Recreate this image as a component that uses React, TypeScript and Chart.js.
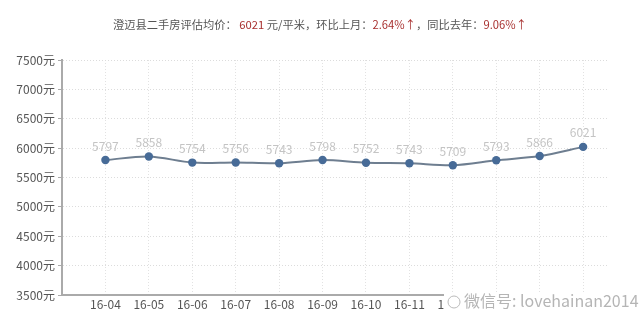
import React, { useEffect, useRef } from "react";
import { Chart, registerables } from "chart.js";

Chart.register(...registerables);

const months = ["16-04", "16-05", "16-06", "16-07", "16-08", "16-09", "16-10", "16-11", "16-12", "17-01", "17-02", "17-03"];
const prices = [5797, 5858, 5754, 5756, 5743, 5798, 5752, 5743, 5709, 5793, 5866, 6021];
const yTicks = [3500, 4000, 4500, 5000, 5500, 6000, 6500, 7000, 7500];

const titleParts: [string, boolean][] = [
  ["澄迈县二手房评估均价： ", false],
  ["6021", true],
  [" 元/平米，环比上月：", false],
  ["2.64%↑", true],
  ["，同比去年：", false],
  ["9.06%↑", true],
];
const watermarkText = "微信号: lovehainan2014";

const FONT = '"Noto Sans CJK SC", "Noto Sans", sans-serif';

const titlePlugin = {
  id: "customTitle",
  afterDraw(chart: any) {
    const ctx = chart.ctx;
    ctx.save();
    ctx.font = `13px ${FONT}`;
    const total13 = titleParts.reduce((s, p) => s + ctx.measureText(p[0]).width, 0);
    const size = (13 * 414) / total13;
    ctx.font = `${size}px ${FONT}`;
    ctx.textBaseline = "middle";
    const total = titleParts.reduce((s, p) => s + ctx.measureText(p[0]).width, 0);
    let x = 320 - total / 2;
    for (const [t, red] of titleParts) {
      ctx.fillStyle = red ? "#a8302f" : "#555";
      ctx.fillText(t, x, 25);
      x += ctx.measureText(t).width;
    }
    ctx.restore();
  },
};

const labelPlugin = {
  id: "pointLabels",
  afterDatasetsDraw(chart: any) {
    const ctx = chart.ctx;
    const meta = chart.getDatasetMeta(0);
    ctx.save();
    ctx.font = `12px ${FONT}`;
    ctx.fillStyle = "#c4c4c4";
    ctx.textAlign = "center";
    ctx.textBaseline = "middle";
    meta.data.forEach((pt: any, i: number) => {
      ctx.fillText(String(prices[i]), pt.x, pt.y - 14);
    });
    ctx.restore();
  },
};

const watermarkPlugin = {
  id: "watermark",
  afterDraw(chart: any) {
    const ctx = chart.ctx;
    ctx.save();
    ctx.fillStyle = "#ffffff";
    ctx.fillRect(444, 292, 186, 20);
    ctx.strokeStyle = "#bbb";
    ctx.lineWidth = 1;
    ctx.beginPath();
    ctx.arc(454, 302, 6, 0, Math.PI * 2);
    ctx.stroke();
    ctx.font = `16px ${FONT}`;
    ctx.textBaseline = "middle";
    ctx.fillStyle = "#b5b5b5";
    ctx.fillText(watermarkText, 464, 301);
    ctx.restore();
  },
};

export default function App() {
  const ref = useRef<HTMLCanvasElement>(null);
  useEffect(() => {
    if (!ref.current) return;
    const chart = new Chart(ref.current, {
      type: "line",
      data: {
        datasets: [
          {
            data: prices.map((v, i) => ({ x: i, y: v })),
            borderColor: "#6e7e90",
            borderWidth: 2,
            tension: 0.3,
            pointRadius: 4.2,
            pointBackgroundColor: "#476b97",
            pointBorderWidth: 0,
            fill: false,
          },
        ],
      },
      options: {
        animation: false,
        responsive: false,
        plugins: { legend: { display: false }, tooltip: { enabled: false } },
        layout: { padding: { top: 60, right: 33, left: 0, bottom: 0 } },
        scales: {
          x: {
            type: "linear",
            min: -1,
            max: 11.55,
            afterFit: (a: any) => { a.height = 34; },
            afterBuildTicks: (a: any) => {
              a.ticks = months.map((_, i) => ({ value: i }));
            },
            ticks: {
              callback: (v: any) => months[v as number] ?? "",
              color: "#555",
              font: { size: 12, family: FONT },
              padding: 2,
              maxRotation: 0,
              autoSkip: false,
            },
            grid: { color: "#e2e2e2", drawTicks: false },
            border: { color: "#aaa", width: 2, dash: [1, 2] },
          },
          y: {
            min: 3500,
            max: 7500,
            afterFit: (a: any) => { a.width = 62; },
            afterBuildTicks: (a: any) => {
              a.ticks = yTicks.map((v) => ({ value: v }));
            },
            ticks: {
              callback: (v: any) => v + "元",
              color: "#555",
              font: { size: 12, family: FONT },
              padding: 3,
            },
            grid: { color: "#dcdcdc", tickLength: 4, tickColor: "#aaa" },
            border: { color: "#aaa", width: 2, dash: [1, 2] },
          },
        },
      },
      plugins: [titlePlugin, labelPlugin, watermarkPlugin],
    });
    return () => chart.destroy();
  }, []);
  return (
    <div style={{ position: "fixed", left: 0, top: 0, width: 640, height: 329, background: "#fff" }}>
      <canvas ref={ref} width={640} height={329} />
    </div>
  );
}
